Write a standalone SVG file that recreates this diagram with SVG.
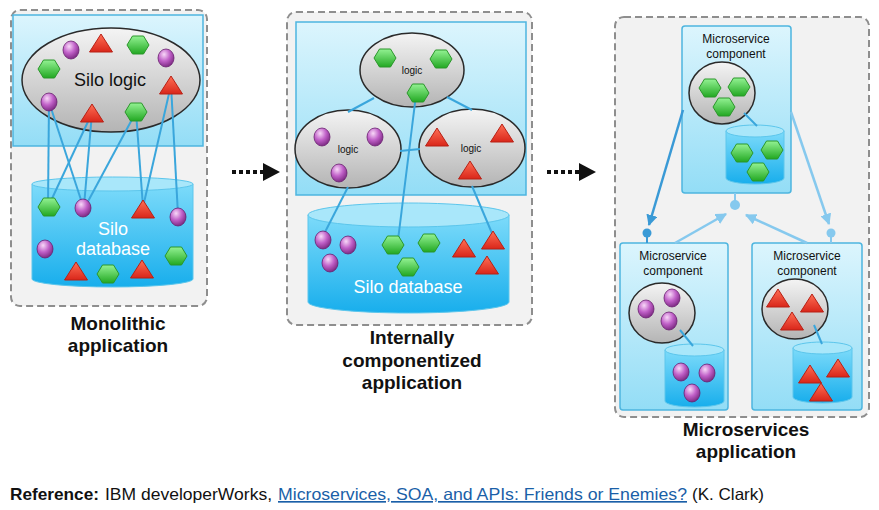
<svg xmlns="http://www.w3.org/2000/svg" xmlns:xlink="http://www.w3.org/1999/xlink" width="879" height="510" viewBox="0 0 879 510">
<style>
.panel{fill:#f2f2f2;stroke:#8e8e8e;stroke-width:2;stroke-dasharray:7 4}
.box{fill:url(#gBox);stroke:#4db5df;stroke-width:1.5}
.comp{fill:url(#gBox);stroke:#4db5df;stroke-width:1.5}
.ell{fill:url(#gEll);stroke:#2a2a2a;stroke-width:1.5}
.dbb{fill:url(#gDb);stroke:#5cc6ec;stroke-width:1}
.dbt{fill:#a9e7fa;stroke:#5cc6ec;stroke-width:1}
.ln{stroke:#3aa6dc;stroke-width:2;fill:none}
.lbl{font-family:"Liberation Sans",Arial,sans-serif;fill:#111}
.title{font-family:"Liberation Sans",Arial,sans-serif;font-weight:bold;font-size:19px;fill:#111;text-anchor:middle}
.wt{font-family:"Liberation Sans",Arial,sans-serif;fill:#fff;font-size:18px;text-anchor:middle}
.dot{stroke:#111;stroke-width:4;stroke-dasharray:4 3;fill:none}
</style>
<defs>
<linearGradient id="gBox" x1="0" y1="0" x2="0" y2="1"><stop offset="0" stop-color="#dcf5fd"/><stop offset="1" stop-color="#93ddf6"/></linearGradient>
<linearGradient id="gEll" x1="0" y1="0" x2="0" y2="1"><stop offset="0" stop-color="#f4f4f4"/><stop offset="1" stop-color="#b4b4b4"/></linearGradient>
<linearGradient id="gDb" x1="0" y1="0" x2="0" y2="1"><stop offset="0" stop-color="#7ddbfa"/><stop offset="1" stop-color="#18aeec"/></linearGradient>
<linearGradient id="gHex" x1="0" y1="0" x2="0" y2="1"><stop offset="0" stop-color="#93f293"/><stop offset="1" stop-color="#22a822"/></linearGradient>
<radialGradient id="gBall" cx="0.38" cy="0.3" r="0.75"><stop offset="0" stop-color="#f8d8f8"/><stop offset="0.5" stop-color="#c060c8"/><stop offset="1" stop-color="#76257c"/></radialGradient>
<linearGradient id="gTri" x1="0" y1="0" x2="0" y2="1"><stop offset="0" stop-color="#ff6f55"/><stop offset="1" stop-color="#d9261a"/></linearGradient>
<polygon id="hex" points="-11,0 -5.5,-9 5.5,-9 11,0 5.5,9 -5.5,9" fill="url(#gHex)" stroke="#2b962b" stroke-width="1"/>
<ellipse id="ball" cx="0" cy="0" rx="8" ry="9" fill="url(#gBall)" stroke="#6a2070" stroke-width="0.8"/>
<polygon id="tri" points="0,-10 11.5,8 -11.5,8" fill="url(#gTri)" stroke="#b82015" stroke-width="1"/>
<marker id="ah" viewBox="0 0 10 10" refX="9" refY="5" markerWidth="4.5" markerHeight="4.5" orient="auto"><path d="M0,0 L10,5 L0,10 Z" fill="#3a9ad6"/></marker>
<marker id="ahL" viewBox="0 0 10 10" refX="9" refY="5" markerWidth="4.5" markerHeight="4.5" orient="auto"><path d="M0,0 L10,5 L0,10 Z" fill="#86c9ee"/></marker>
</defs>

<!-- Panel backgrounds -->
<g id="monolithic">
<rect class="panel" x="11" y="10" width="196" height="296" rx="9"/>
<rect class="box" x="13" y="15" width="190" height="131"/>
</g>
<g id="componentized">
<rect class="panel" x="287" y="12" width="245" height="313" rx="9"/>
<rect class="box" x="296" y="22" width="230" height="173"/>
</g>
<g id="microservices">
<rect class="panel" x="615" y="17" width="254" height="400" rx="9"/>
</g>

<!-- Node bodies -->
<g id="silo-logic">
<ellipse class="ell" cx="111" cy="80" rx="89" ry="52"/>
<text class="lbl" x="110" y="86" font-size="18" text-anchor="middle">Silo logic</text>
</g>
<g id="silo-database">
<path class="dbb" d="M32,184 L32,279 A80.5,8 0 0 0 193,279 L193,184 Z"/>
<ellipse class="dbt" cx="112.5" cy="184" rx="80.5" ry="7"/>
<text class="wt" x="113" y="235">Silo</text>
<text class="wt" x="113" y="255">database</text>
</g>
<g id="logic-top">
<ellipse class="ell" cx="412" cy="70" rx="52" ry="37"/>
<text class="lbl" x="412" y="74" font-size="10" text-anchor="middle">logic</text>
</g>
<g id="logic-left">
<ellipse class="ell" cx="348" cy="149" rx="53" ry="39"/>
<text class="lbl" x="348" y="153" font-size="10" text-anchor="middle">logic</text>
</g>
<g id="logic-right">
<ellipse class="ell" cx="472" cy="148" rx="53" ry="39"/>
<text class="lbl" x="471" y="152" font-size="10" text-anchor="middle">logic</text>
</g>
<g id="silo-database-2">
<path class="dbb" d="M308,215 L308,302 A100.5,11 0 0 0 509,302 L509,215 Z"/>
<ellipse class="dbt" cx="408.5" cy="215" rx="100.5" ry="12"/>
<text class="wt" x="408" y="293">Silo database</text>
</g>
<g id="ms-top">
<rect class="comp" x="682" y="26" width="109" height="167" rx="3"/>
<text class="lbl" x="736" y="43" font-size="12" text-anchor="middle">Microservice</text>
<text class="lbl" x="736" y="58" font-size="12" text-anchor="middle">component</text>
<ellipse class="ell" cx="722" cy="93" rx="33" ry="31"/>
<path class="dbb" d="M726,131 L726,178 A29,6 0 0 0 784,178 L784,131 Z"/>
<ellipse class="dbt" cx="755" cy="131" rx="29" ry="6"/>
</g>
<g id="ms-left">
<rect class="comp" x="620" y="243" width="108" height="167" rx="3"/>
<text class="lbl" x="673" y="260" font-size="12" text-anchor="middle">Microservice</text>
<text class="lbl" x="673" y="275" font-size="12" text-anchor="middle">component</text>
<ellipse class="ell" cx="662" cy="313" rx="33" ry="30"/>
<path class="dbb" d="M665,350 L665,401 A29.5,6 0 0 0 724,401 L724,350 Z"/>
<ellipse class="dbt" cx="694.5" cy="350" rx="29.5" ry="6"/>
</g>
<g id="ms-right">
<rect class="comp" x="752" y="243" width="110" height="167" rx="3"/>
<text class="lbl" x="807" y="260" font-size="12" text-anchor="middle">Microservice</text>
<text class="lbl" x="807" y="275" font-size="12" text-anchor="middle">component</text>
<ellipse class="ell" cx="795" cy="309" rx="33" ry="30"/>
<path class="dbb" d="M793,348 L793,397 A29.5,6 0 0 0 852,397 L852,348 Z"/>
<ellipse class="dbt" cx="822.5" cy="348" rx="29.5" ry="6"/>
</g>

<!-- Connectors -->
<g id="connectors">
<line class="ln" x1="49" y1="102" x2="48" y2="205"/>
<line class="ln" x1="49" y1="102" x2="83" y2="206"/>
<line class="ln" x1="92" y1="113" x2="49" y2="205"/>
<line class="ln" x1="92" y1="113" x2="84" y2="206"/>
<line class="ln" x1="136" y1="112" x2="85" y2="207"/>
<line class="ln" x1="136" y1="112" x2="143" y2="207"/>
<line class="ln" x1="171" y1="85" x2="143" y2="207"/>
<line class="ln" x1="171" y1="85" x2="178" y2="215"/>
<line class="ln" x1="374" y1="98" x2="348" y2="112"/>
<line class="ln" x1="447" y1="97" x2="472" y2="110"/>
<line class="ln" x1="400" y1="151" x2="420" y2="149"/>
<line class="ln" x1="416" y1="95" x2="398" y2="240"/>
<line class="ln" x1="348" y1="187" x2="323" y2="236"/>
<line class="ln" x1="472" y1="186" x2="494" y2="238"/>
<line class="ln" x1="744" y1="113" x2="757" y2="126"/>
<line class="ln" x1="680" y1="330" x2="693" y2="346"/>
<line class="ln" x1="814" y1="325" x2="822" y2="344"/>
<line x1="683" y1="110" x2="649" y2="225" stroke="#3a9ad6" stroke-width="2.5" marker-end="url(#ah)"/>
<line x1="647" y1="233" x2="647" y2="243" stroke="#3a9ad6" stroke-width="2"/>
<circle cx="647" cy="233" r="4.5" fill="#3a9ad6"/>
<line x1="791" y1="112" x2="829" y2="224" stroke="#86c9ee" stroke-width="2.5" marker-end="url(#ahL)"/>
<line x1="831" y1="233" x2="831" y2="243" stroke="#86c9ee" stroke-width="2"/>
<circle cx="831" cy="233" r="4.5" fill="#86c9ee"/>
<line x1="735" y1="193" x2="735" y2="204" stroke="#86c9ee" stroke-width="2"/>
<circle cx="735" cy="205" r="5" fill="#86c9ee"/>
<line x1="675" y1="243" x2="726" y2="214" stroke="#86c9ee" stroke-width="2.5" marker-end="url(#ahL)"/>
<line x1="807" y1="243" x2="746" y2="215" stroke="#86c9ee" stroke-width="2.5" marker-end="url(#ahL)"/>
<line class="dot" x1="232" y1="172" x2="264" y2="172"/>
<polygon points="263,163 280,172 263,181" fill="#111"/>
<line class="dot" x1="547" y1="172" x2="580" y2="172"/>
<polygon points="579,163 596,172 579,181" fill="#111"/>
</g>

<!-- Items inside nodes -->
<g id="silo-logic-items">
<use href="#ball" x="71" y="50"/>
<use href="#tri" x="101" y="44"/>
<use href="#hex" x="138" y="45"/>
<use href="#ball" x="166" y="58"/>
<use href="#hex" x="49" y="69"/>
<use href="#tri" x="171" y="86"/>
<use href="#ball" x="49" y="102"/>
<use href="#tri" x="92" y="114"/>
<use href="#hex" x="136" y="112"/>
</g>
<g id="silo-database-items">
<use href="#hex" x="49" y="207"/>
<use href="#ball" x="83" y="208"/>
<use href="#tri" x="143" y="210"/>
<use href="#ball" x="178" y="217"/>
<use href="#ball" x="45" y="249"/>
<use href="#hex" x="176" y="256"/>
<use href="#tri" x="76" y="272"/>
<use href="#hex" x="108" y="274"/>
<use href="#tri" x="142" y="270"/>
</g>
<g id="logic-top-items">
<use href="#hex" x="385" y="58"/>
<use href="#hex" x="441" y="59"/>
<use href="#hex" x="418" y="93"/>
</g>
<g id="logic-left-items">
<use href="#ball" x="322" y="137"/>
<use href="#ball" x="375" y="137"/>
<use href="#ball" x="339" y="173"/>
</g>
<g id="logic-right-items">
<use href="#tri" x="437" y="138"/>
<use href="#tri" x="502" y="134"/>
<use href="#tri" x="470" y="171"/>
</g>
<g id="silo-database-2-items">
<use href="#ball" x="323" y="240"/>
<use href="#ball" x="348" y="245"/>
<use href="#ball" x="330" y="263"/>
<use href="#hex" x="393" y="245"/>
<use href="#hex" x="429" y="243"/>
<use href="#hex" x="408" y="267"/>
<use href="#tri" x="464" y="249"/>
<use href="#tri" x="493" y="241"/>
<use href="#tri" x="487" y="266"/>
</g>
<g id="ms-top-items">
<use href="#hex" x="710" y="88"/>
<use href="#hex" x="739" y="87"/>
<use href="#hex" x="724" y="107"/>
<use href="#hex" x="742" y="153"/>
<use href="#hex" x="772" y="150"/>
<use href="#hex" x="758" y="172"/>
</g>
<g id="ms-left-items">
<use href="#ball" x="646" y="309"/>
<use href="#ball" x="672" y="298"/>
<use href="#ball" x="669" y="321"/>
<use href="#ball" x="681" y="372"/>
<use href="#ball" x="707" y="373"/>
<use href="#ball" x="692" y="393"/>
</g>
<g id="ms-right-items">
<use href="#tri" x="778" y="299"/>
<use href="#tri" x="812" y="304"/>
<use href="#tri" x="792" y="322"/>
<use href="#tri" x="810" y="375"/>
<use href="#tri" x="838" y="369"/>
<use href="#tri" x="821" y="393"/>
</g>

<!-- Titles -->
<g id="titles">
<text class="title" x="118" y="330">Monolithic</text>
<text class="title" x="118" y="352">application</text>
<text class="title" x="412" y="344">Internally</text>
<text class="title" x="412" y="367">componentized</text>
<text class="title" x="412" y="389">application</text>
<text class="title" x="746" y="436">Microservices</text>
<text class="title" x="746" y="458">application</text>
</g>

<!-- Reference -->
<g id="reference" font-family="'Liberation Sans',Arial,sans-serif" font-size="16.5" fill="#111">
<text x="10" y="500" font-weight="bold" textLength="89" lengthAdjust="spacingAndGlyphs">Reference:</text>
<text x="105" y="500" textLength="167" lengthAdjust="spacingAndGlyphs">IBM developerWorks,</text>
<text x="278" y="500" fill="#1a5fa8" text-decoration="underline" textLength="409" lengthAdjust="spacingAndGlyphs">Microservices, SOA, and APIs: Friends or Enemies?</text>
<text x="692" y="500" textLength="72" lengthAdjust="spacingAndGlyphs">(K. Clark)</text>
</g>
</svg>
